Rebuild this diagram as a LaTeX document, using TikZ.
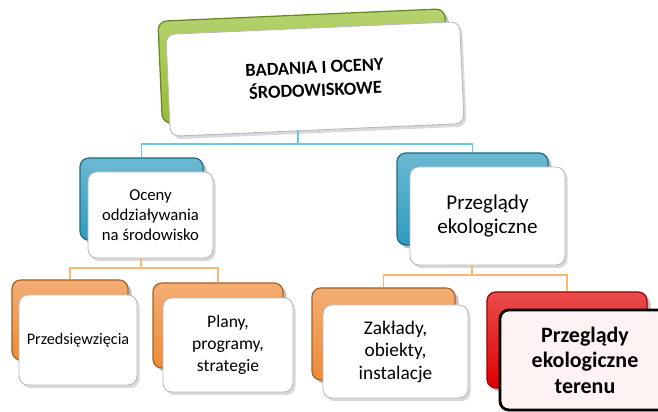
\documentclass[tikz,border=0pt]{standalone}
\usepackage{fontspec}
\setmainfont{Carlito}
\usetikzlibrary{positioning,shadows}

\definecolor{leafgreen}{RGB}{150,190,50}
\definecolor{seablue}{RGB}{45,155,190}
\definecolor{warmorange}{RGB}{238,138,55}
\definecolor{alarmred}{RGB}{225,0,0}
\definecolor{linkblue}{RGB}{105,200,232}
\definecolor{linkorange}{RGB}{250,185,115}

\begin{document}
\begin{tikzpicture}[
  backbox/.style={rounded corners=5pt, inner sep=0pt, draw=#1!70!black, line width=0.7pt,
    top color=#1!70, bottom color=#1,
    drop shadow={opacity=0.5, shadow xshift=0.7mm, shadow yshift=-0.7mm}},
  frontbox/.style={rounded corners=5pt, inner sep=2pt, draw=gray!55, line width=0.5pt,
    fill=white, align=center,
    drop shadow={opacity=0.3, shadow xshift=0.5mm, shadow yshift=-0.6mm}},
  bluelink/.style={draw=linkblue, line width=1.1pt},
  orangelink/.style={draw=linkorange, line width=1.1pt}
]
  \useasboundingbox (0,0) rectangle (13.16,8.24);
  \clip (0,0) rectangle (13.16,8.24);

  % Top level
  \node[backbox=leafgreen, rotate=2.5, minimum width=5.74cm, minimum height=2.04cm] (topback) at (6.07,6.92) {};
  \node[frontbox, rotate=2.5, minimum width=5.88cm, minimum height=2.04cm,
        font=\fontsize{10.5}{13}\selectfont\bfseries] (top) at (6.30,6.66) {BADANIA I OCENY\\ŚRODOWISKOWE};

  % Second level
  \node[backbox=seablue, minimum width=2.46cm, minimum height=1.64cm] (ocenback) at (2.83,4.26) {};
  \node[frontbox, minimum width=2.5cm, minimum height=1.72cm,
        font=\fontsize{9.5}{11.4}\selectfont] (ocen) at (3.01,3.94) {Oceny\\oddziaływania\\na środowisko};

  \node[backbox=seablue, minimum width=3.02cm, minimum height=1.84cm] (przegback) at (9.45,4.26) {};
  \node[frontbox, minimum width=3.1cm, minimum height=1.96cm,
        font=\fontsize{12}{14}\selectfont] (przeg) at (9.75,3.92) {Przeglądy\\ekologiczne};

  % Third level
  \node[backbox=warmorange, minimum width=2.32cm, minimum height=1.6cm] (przedback) at (1.40,1.84) {};
  \node[frontbox, minimum width=2.36cm, minimum height=1.8cm,
        font=\fontsize{9.2}{11}\selectfont] (przed) at (1.56,1.44) {Przedsięwzięcia};

  \node[backbox=warmorange, minimum width=2.6cm, minimum height=1.7cm] (planback) at (4.36,1.73) {};
  \node[frontbox, minimum width=2.6cm, minimum height=1.88cm,
        font=\fontsize{10}{12.5}\selectfont] (plan) at (4.56,1.34) {Plany,\\programy,\\strategie};

  \node[backbox=warmorange, minimum width=2.86cm, minimum height=1.84cm] (zaklback) at (7.67,1.56) {};
  \node[frontbox, minimum width=2.9cm, minimum height=1.86cm,
        font=\fontsize{11}{12.8}\selectfont] (zakl) at (7.91,1.21) {Zakłady,\\obiekty,\\instalacje};

  \node[backbox=alarmred, minimum width=3.2cm, minimum height=1.92cm] (terenback) at (11.34,1.44) {};
  \node[frontbox, draw=black, line width=1.6pt, fill=red!5, minimum width=3.4cm, minimum height=2.0cm,
        font=\fontsize{12.5}{14.5}\selectfont\bfseries] (teren) at (11.70,1.04) {Przeglądy\\ekologiczne\\terenu};

  % Connectors
  \coordinate (hubtop) at (5.96,5.36);
  \draw[bluelink] (hubtop) -- (hubtop |- top.south);
  \draw[bluelink] (hubtop) -| (ocenback.north);
  \draw[bluelink] (hubtop) -| (przegback.north);

  \coordinate (hubleft) at (2.82,2.88);
  \draw[orangelink] (hubleft) -- (hubleft |- ocen.south);
  \draw[orangelink] (hubleft) -| (przedback.north);
  \draw[orangelink] (hubleft) -| (planback.north);

  \coordinate (hubright) at (9.44,2.74);
  \draw[orangelink] (hubright) -- (hubright |- przeg.south);
  \draw[orangelink] (hubright) -| (zaklback.north);
  \draw[orangelink] (hubright) -| (terenback.north);
\end{tikzpicture}
\end{document}
